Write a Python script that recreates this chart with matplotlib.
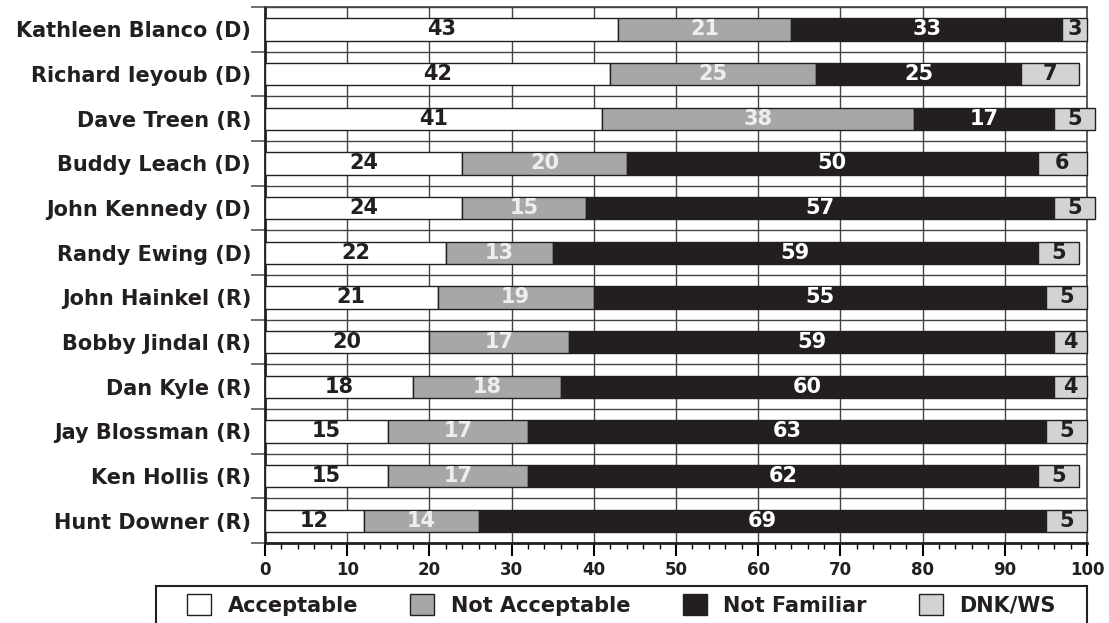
import numpy as np
import matplotlib
matplotlib.use('Agg')
from matplotlib import pyplot as plt
from matplotlib.patches import Rectangle, Patch

candidates = ['Kathleen Blanco (D)', 'Richard Ieyoub (D)', 'Dave Treen (R)',
              'Buddy Leach (D)', 'John Kennedy (D)', 'Randy Ewing (D)',
              'John Hainkel (R)', 'Bobby Jindal (R)', 'Dan Kyle (R)',
              'Jay Blossman (R)', 'Ken Hollis (R)', 'Hunt Downer (R)']
acceptable = [43, 42, 41, 24, 24, 22, 21, 20, 18, 15, 15, 12]
not_acceptable = [21, 25, 38, 20, 15, 13, 19, 17, 18, 17, 17, 14]
not_familiar = [33, 25, 17, 50, 57, 59, 55, 59, 60, 63, 62, 69]
dnk_ws = [3, 7, 5, 6, 5, 5, 5, 4, 4, 5, 5, 5]

series_names = ['Acceptable', 'Not Acceptable', 'Not Familiar', 'DNK/WS']
series = [acceptable, not_acceptable, not_familiar, dnk_ws]
colors = ['#ffffff', '#a7a7a9', '#231f20', '#d3d3d5']
text_colors = ['#231f20', '#eeeeee', '#ffffff', '#231f20']

fig = plt.figure(figsize=(11.09, 6.23), dpi=100)
ax = fig.add_axes([265/1109, 1 - 543/623, (1087-265)/1109, (543-7)/623])

y = np.arange(len(candidates))
left = np.zeros(len(candidates))
for vals, col, tcol in zip(series, colors, text_colors):
    vals = np.array(vals, dtype=float)
    bars = ax.barh(y, vals, left=left, height=0.5, color=col,
                   edgecolor='#231f20', linewidth=1.0, zorder=3, clip_on=False)
    for b, v in zip(bars, vals):
        ax.text(b.get_x() + b.get_width()/2, b.get_y() + b.get_height()/2,
                f'{int(v)}', ha='center', va='center', color=tcol,
                fontsize=15, fontweight='bold', zorder=4, clip_on=False)
    left = left + vals

ax.set_xlim(0, 100)
ax.set_ylim(len(candidates) - 0.5, -0.5)
ax.set_xticks(np.arange(0, 101, 10))
ax.set_xticks(np.arange(0, 101, 2), minor=True)
ax.set_yticks(y)
ax.set_yticklabels(candidates)
ax.set_yticks(np.arange(-0.5, len(candidates), 1), minor=True)

ax.tick_params(axis='y', which='major', length=0, pad=10, labelsize=15)
ax.tick_params(axis='y', which='minor', length=10, width=1.2, color='#555555')
ax.tick_params(axis='x', which='major', length=9, width=1.5, labelsize=12, pad=4)
ax.tick_params(axis='x', which='minor', length=4, width=1.0)
for lab in ax.get_yticklabels() + ax.get_xticklabels():
    lab.set_fontweight('bold')
    lab.set_color('#231f20')

ax.grid(True, axis='x', which='major', color='#444444', linewidth=1.0, zorder=1)
ax.grid(True, axis='y', which='minor', color='#444444', linewidth=1.0, zorder=1)
ax.set_axisbelow(True)
for side in ['top', 'right']:
    ax.spines[side].set_linewidth(1.2)
    ax.spines[side].set_color('#444444')
for side in ['left', 'bottom']:
    ax.spines[side].set_linewidth(2.0)
    ax.spines[side].set_color('#231f20')

# legend frame (runs off the bottom edge like the original)
fig.add_artist(Rectangle((156/1109, -0.05), (1087-156)/1109, 0.05 + (623-586)/623,
                         transform=fig.transFigure, fill=False,
                         edgecolor='#231f20', linewidth=1.5))
handles = [Patch(facecolor=c, edgecolor='#231f20', linewidth=1.0) for c in colors]
leg = fig.legend(handles, series_names, loc='center', ncol=4,
                 bbox_to_anchor=(621.5/1109, 1 - 605/623), frameon=False,
                 prop={'size': 15, 'weight': 'bold'}, handlelength=1.15,
                 handleheight=1.15, handletextpad=0.8, columnspacing=2.5)
for t in leg.get_texts():
    t.set_color('#231f20')

fig.savefig('out.png', dpi=100)
